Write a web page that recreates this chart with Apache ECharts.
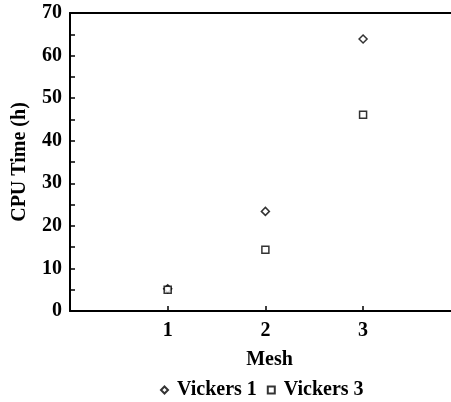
<!DOCTYPE html>
<html><head><meta charset="utf-8">
<script src="https://cdn.jsdelivr.net/npm/echarts@6/dist/echarts.min.js"></script>
<style>html,body{margin:0;padding:0;background:#fff}#c{width:451px;height:402px}</style>
</head><body><div id="c"></div>
<script>
const meshes = [1, 2, 3];
const vickers1 = [5.2, 23.4, 63.9];
const vickers3 = [5.0, 14.4, 46.1];
const seriesNames = ['Vickers 1', 'Vickers 3'];
const yTicks = [0, 10, 20, 30, 40, 50, 60, 70];

const font = 'Liberation Serif';
const chart = echarts.init(document.getElementById('c'));
const axisText = {color: '#000', fontFamily: font, fontWeight: 'bold', fontSize: 20};
chart.setOption({
  animation: false,
  grid: {left: 70, right: 0, top: 13, bottom: 91, containLabel: false, outerBoundsMode: 'none'},
  legend: {
    top: 380, left: 160, padding: 0, itemGap: 10, itemWidth: 7, itemHeight: 7,
    textStyle: {color: '#000', fontFamily: font, fontWeight: 'bold', fontSize: 20, padding: [0, 0, 0, 4]},
    data: [{name: seriesNames[0], icon: 'diamond'}, {name: seriesNames[1], icon: 'rect'}]
  },
  xAxis: [{
    type: 'value', min: 0, max: 3.9, interval: 1,
    name: 'Mesh', nameLocation: 'middle', nameGap: 39,
    nameTextStyle: Object.assign({}, axisText, {padding: [0, 0, 0, 18]}),
    axisLine: {show: true, lineStyle: {color: '#000', width: 2}},
    axisTick: {show: true, inside: true, length: 5, customValues: meshes, lineStyle: {color: '#000', width: 1.5}},
    axisLabel: Object.assign({margin: 10, customValues: meshes}, axisText),
    splitLine: {show: false}
  }, {
    type: 'value', position: 'top', min: 0, max: 3.9,
    axisLine: {show: true, onZero: false, lineStyle: {color: '#000', width: 2}},
    axisTick: {show: false}, axisLabel: {show: false}, splitLine: {show: false}
  }],
  yAxis: {
    type: 'value', min: yTicks[0], max: yTicks[yTicks.length - 1], interval: 10,
    name: 'CPU Time (h)', nameLocation: 'middle', nameGap: 40,
    nameTextStyle: axisText,
    axisLine: {show: true, lineStyle: {color: '#000', width: 2}},
    axisTick: {show: true, inside: true, length: 5, lineStyle: {color: '#000', width: 1.5}},
    minorTick: {show: true, splitNumber: 2, length: 5, lineStyle: {color: '#000', width: 1.5}},
    axisLabel: Object.assign({margin: 8}, axisText),
    splitLine: {show: false}
  },
  series: [{
    name: seriesNames[0], type: 'scatter', symbol: 'diamond', symbolSize: 8,
    itemStyle: {color: '#fff', borderColor: '#000', borderWidth: 1.5},
    data: meshes.map((m, i) => [m, vickers1[i]])
  }, {
    name: seriesNames[1], type: 'scatter', symbol: 'rect', symbolSize: 7,
    itemStyle: {color: '#fff', borderColor: '#000', borderWidth: 1.5},
    data: meshes.map((m, i) => [m, vickers3[i]])
  }]
});
</script></body></html>
